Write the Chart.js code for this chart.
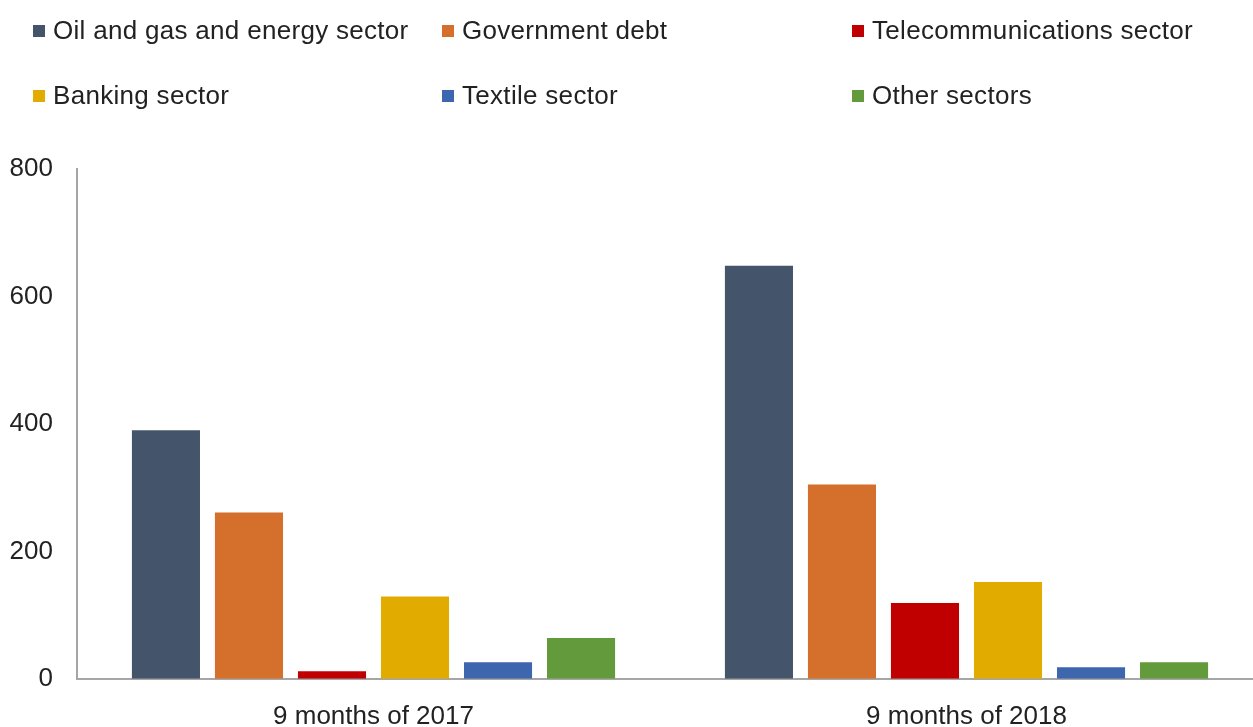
<!DOCTYPE html>
<html>
<head>
<meta charset="utf-8">
<script src="https://cdn.jsdelivr.net/npm/chart.js@4"></script>
<style>
  html, body { margin: 0; padding: 0; background: #fff; overflow: hidden; }
  body { width: 1253px; height: 727px; position: relative; }
  #wrap { position: absolute; left: 0; top: 0; width: 1263px; height: 754px; }
  .legend { position: absolute; left: 0; top: 0; width: 1253px; height: 130px;
    font-family: 'Liberation Sans', Arial, sans-serif; font-size: 26px; letter-spacing: 0.3px; color: #222; }
  .item { position: absolute; white-space: nowrap; line-height: 30px; }
  .item i { display: inline-block; width: 12px; height: 12px; margin-right: 8px; vertical-align: 2px; }
</style>
</head>
<body>
<div id="wrap"><canvas id="chart"></canvas></div>
<div class="legend" id="legend"></div>
<script>
// categories and series
const periods = ['9 months of 2017', '9 months of 2018'];
const sectors = ['Oil and gas and energy sector', 'Government debt', 'Telecommunications sector',
  'Banking sector', 'Textile sector', 'Other sectors'];
const oilGas = [390, 648];
const govDebt = [261, 305];
const telecom = [12, 119];
const banking = [129, 152];
const textile = [26, 18];
const other = [64, 26];
const yTicks = [0, 200, 400, 600, 800];

const colors = ['#44546A', '#D46F2C', '#C00000', '#E2AB00', '#3E66AE', '#629A3C'];
const series = [oilGas, govDebt, telecom, banking, textile, other];

// legend in three columns, two rows
const legendPos = [[33, 15], [442, 15], [852, 15], [33, 80], [442, 80], [852, 80]];
const legendEl = document.getElementById('legend');
sectors.forEach((name, i) => {
  const d = document.createElement('div');
  d.className = 'item';
  d.style.left = legendPos[i][0] + 'px';
  d.style.top = legendPos[i][1] + 'px';
  d.innerHTML = '<i style="background:' + colors[i] + '"></i>' + name;
  legendEl.appendChild(d);
});

const font = { family: "'Liberation Sans', Arial, sans-serif", size: 26 };

new Chart(document.getElementById('chart'), {
  type: 'bar',
  data: {
    labels: periods,
    datasets: series.map((values, i) => ({
      label: sectors[i],
      data: values,
      backgroundColor: colors[i],
      borderWidth: 0,
      categoryPercentage: 0.84,
      barPercentage: 0.82
    }))
  },
  options: {
    responsive: true,
    maintainAspectRatio: false,
    animation: false,
    layout: { padding: { top: 169, left: 10, right: 0, bottom: 0 } },
    plugins: { legend: { display: false }, tooltip: { enabled: false } },
    scales: {
      x: {
        grid: { display: false, drawTicks: false },
        border: { color: '#A6A6A6', width: 2 },
        ticks: { color: '#222', font: font, padding: 22 }
      },
      y: {
        min: 0,
        max: 800,
        afterBuildTicks: (axis) => { axis.ticks = yTicks.map(v => ({ value: v })); },
        afterFit: (axis) => { axis.width = 67; },
        grid: { display: false, drawTicks: false },
        border: { color: '#A6A6A6', width: 2 },
        ticks: { color: '#222', font: font, padding: 24 }
      }
    }
  }
});
</script>
</body>
</html>
